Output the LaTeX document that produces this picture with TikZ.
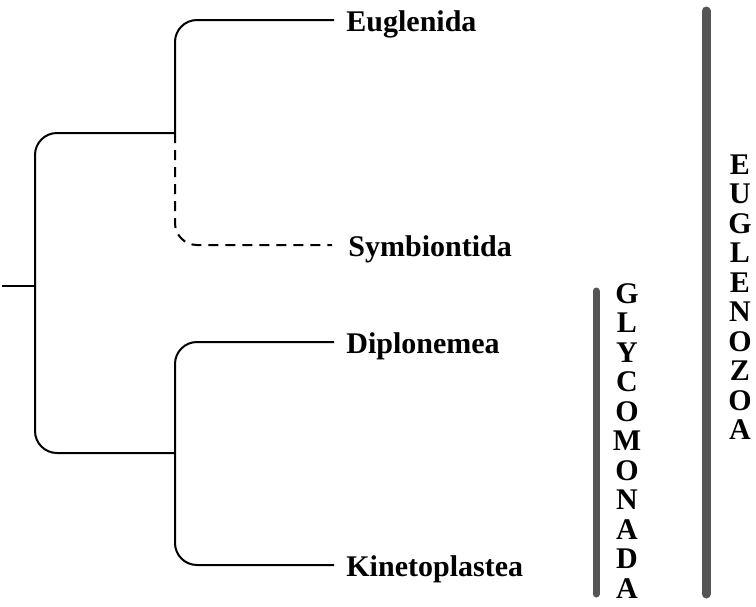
\documentclass[tikz,border=0pt]{standalone}
\usepackage{fontspec}
\setmainfont{Liberation Serif}
\usetikzlibrary{positioning}
\definecolor{barGray}{RGB}{85,85,85}

\begin{document}
\begin{tikzpicture}[
    x=0.5pt, y=-0.5pt,
    branch/.style={line width=1pt, rounded corners=11pt},
    missing/.style={branch, dash pattern=on 5pt off 3.5pt},
    taxon/.style={anchor=west, inner xsep=6pt, text height=11pt, text depth=0pt, font=\bfseries\fontsize{15}{18}\selectfont},
    cladebar/.style={line width=4.5pt, line cap=round, draw=barGray},
    smallbar/.style={cladebar, line width=3.5pt},
    cladelabel/.style={align=center, inner sep=0pt, font=\bfseries\fontsize{15}{14.75}\selectfont}
]
\useasboundingbox (0,0) rectangle (756,606);

% Internal nodes of the tree
\coordinate (stub) at (2,286);
\coordinate (root) at (35,286);
\coordinate (upper) at (175,133);
\coordinate (lower) at (175,453);

% Taxa
\node[taxon] (euglenida) at (334,20) {Euglenida};
\node[taxon] (symbiontida) at (336,245) {Symbiontida};
\node[taxon] (diplonemea) at (334,342) {Diplonemea};
\node[taxon] (kinetoplastea) at (334,565) {Kinetoplastea};

% Branches
\draw[branch] (stub) -- (root);
\draw[branch] (root) |- (upper);
\draw[branch] (root) |- (lower);
\draw[branch] (upper) |- (euglenida.west);
\draw[missing] (upper) |- ([xshift=-2]symbiontida.west);
\draw[branch] (lower) |- (diplonemea.west);
\draw[branch] (lower) |- (kinetoplastea.west);

% Clade bars
\coordinate (glycoTop) at (596,291);
\coordinate (glycoBot) at (596,594);
\coordinate (euglenoTop) at (706,11);
\coordinate (euglenoBot) at (706,594);
\draw[smallbar] (glycoTop) -- (glycoBot);
\draw[cladebar] (euglenoTop) -- (euglenoBot);

\node[cladelabel] (glycomonada) at (627,441) {G\\L\\Y\\C\\O\\M\\O\\N\\A\\D\\A};
\node[cladelabel] (euglenozoa) at (740,297) {E\\U\\G\\L\\E\\N\\O\\Z\\O\\A};

\end{tikzpicture}
\end{document}
